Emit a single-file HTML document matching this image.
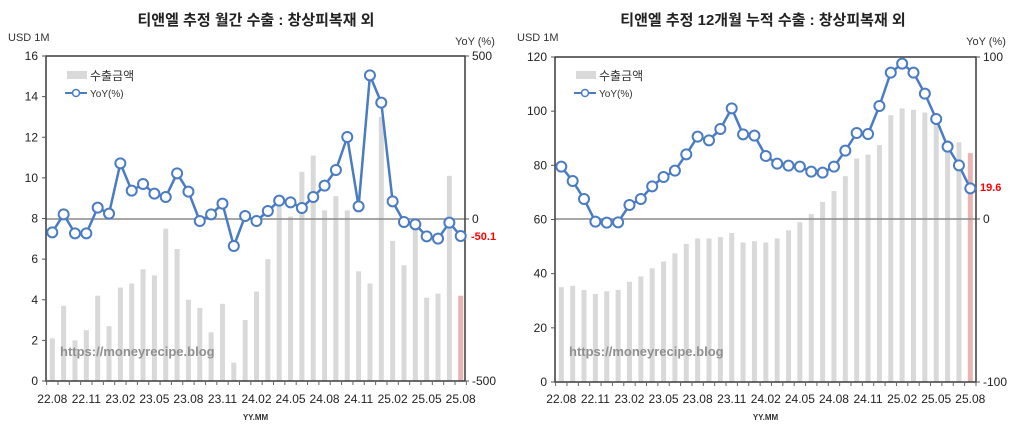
<!DOCTYPE html>
<html><head><meta charset="utf-8"><style>
html,body{margin:0;padding:0;background:#fff;}
svg{display:block;font-family:"Liberation Sans","Noto Sans CJK KR",sans-serif;}
</style></head><body>
<svg id="s" width="1024" height="442" viewBox="0 0 1024 442" xmlns="http://www.w3.org/2000/svg"></svg>
<script>
const S=document.getElementById('s');let h='';
function chart(o){
 const {x0,x1,y0,y1,bx0,bx1,lmax,bars,line,zy,title,tx,rt,lbl,lblx,lbly,lstep}=o;
 const n=37,sp=(bx1-bx0)/36;
 h+=`<text x="${tx}" y="25" text-anchor="middle" font-size="15" font-weight="bold" fill="#222">${title}</text>`;
 h+=`<text x="${x0-38}" y="41" font-size="11" fill="#333">USD 1M</text>`;
 h+=`<text x="${x1+10}" y="45" text-anchor="middle" font-size="11" fill="#333">YoY (%)</text>`;
 bars.forEach((v,i)=>{const cx=bx0+i*sp,t=y1-(v/lmax)*(y1-y0);
  h+=`<rect x="${cx-2.5}" y="${t}" width="5" height="${y1-t}" fill="${i==36?'#e8b4b4':'#d9d9d9'}"/>`;});
 h+=`<line x1="${x0}" y1="${zy}" x2="${x1}" y2="${zy}" stroke="#8a8a8a" stroke-width="1.5"/>`;
 h+=`<rect x="${x0}" y="${y0}" width="${x1-x0}" height="${y1-y0}" fill="none" stroke="#3a3a3a" stroke-width="1.5"/>`;
 for(let v=0;v<=lmax;v+=lstep){const y=y1-(v/lmax)*(y1-y0);
  h+=`<line x1="${x0-4}" y1="${y}" x2="${x0}" y2="${y}" stroke="#555"/>`;
  h+=`<text x="${x0-8}" y="${y+4}" text-anchor="end" font-size="12" fill="#222">${v}</text>`;}
 rt.forEach(([t,y])=>{h+=`<line x1="${x1}" y1="${y}" x2="${x1+4}" y2="${y}" stroke="#555"/>`;
  h+=`<text x="${x1+7}" y="${y+4}" font-size="12" fill="#222">${t}</text>`;});
 for(let i=0;i<=n;i++){const x=bx0+(i-0.5)*sp;h+=`<line x1="${x}" y1="${y1}" x2="${x}" y2="${y1+4}" stroke="#666"/>`;}
 const labs=['22.08','22.11','23.02','23.05','23.08','23.11','24.02','24.05','24.08','24.11','25.02','25.05','25.08'];
 labs.forEach((l,k)=>{h+=`<text x="${bx0+k*3*sp}" y="403" text-anchor="middle" font-size="12" fill="#222">${l}</text>`;});
 h+=`<text x="${(x0+x1)/2}" y="420" text-anchor="middle" font-size="8" font-weight="bold" fill="#333">YY.MM</text>`;
 const pts=line.map((y,i)=>[bx0+i*sp,y/3]);
 h+=`<polyline points="${pts.map(p=>p.join(',')).join(' ')}" fill="none" stroke="#4a7cc4" stroke-width="2.5"/>`;
 pts.forEach(p=>{h+=`<circle cx="${p[0]}" cy="${p[1]}" r="5" fill="#fff" stroke="#4a7cc4" stroke-width="2"/>`;});
 h+=`<rect x="${x0+21}" y="71" width="20" height="8" fill="#d9d9d9"/>`;
 h+=`<text x="${x0+44}" y="80" font-size="12" fill="#333">수출금액</text>`;
 h+=`<line x1="${x0+19}" y1="93" x2="${x0+41}" y2="93" stroke="#4a7cc4" stroke-width="2"/><circle cx="${x0+30}" cy="93" r="3.5" fill="#fff" stroke="#4a7cc4" stroke-width="1.5"/>`;
 h+=`<text x="${x0+44}" y="97" font-size="10" fill="#333">YoY(%)</text>`;
 h+=`<text x="${x0+14}" y="356" font-size="13" font-weight="bold" fill="#909090">https://moneyrecipe.blog</text>`;
 h+=`<text x="${lblx}" y="${lbly}" font-size="11" font-weight="bold" fill="#ff0000">${lbl}</text>`;
}
chart({x0:46,x1:465,y0:56,y1:381,bx0:52.3,bx1:460.7,lmax:16,lstep:2,zy:219,title:'티앤엘 추정 월간 수출 : 창상피복재 외',tx:256,
 rt:[['500',56],['0',219],['-500',381]],lbl:'-50.1',lblx:471,lbly:240,
 bars:[2.1,3.7,2.0,2.5,4.2,2.7,4.6,4.8,5.5,5.2,7.5,6.5,4.0,3.6,2.4,3.8,0.9,3.0,4.4,6.0,8.6,8.1,10.3,11.1,8.4,9.1,8.4,5.4,4.8,13.0,6.9,5.7,7.5,4.1,4.3,10.1,4.2],
 line:[697,643,700,700,623,641,490,572,552,581,591,520,575,663,643,611,738,648,663,633,602,607,624,591,557,510,411,619,226,308,604,666,673,709,716,668,708]});
chart({x0:555,x1:976,y0:57,y1:382,bx0:561.3,bx1:970.3,lmax:120,lstep:20,zy:219,title:'티앤엘 추정 12개월 누적 수출 : 창상피복재 외',tx:763,
 rt:[['100',57],['0',219],['-100',382]],lbl:'19.6',lblx:980,lbly:191,
 bars:[35,35.5,34,32.5,33.5,34,37,39,42,44.5,47.5,51,53,53,53.5,55,51.5,52,51.5,53,56,59,62,66.5,70.5,76,82.5,84,87.5,98.5,101,100.5,99.5,95,89.3,88.5,84.5],
 line:[500,543,597,665,668,667,615,597,559,531,512,463,410,421,387,325,403,407,468,491,497,500,515,518,500,452,399,402,318,218,191,218,281,357,440,496,565]});
S.innerHTML=h;
</script>
</body></html>
